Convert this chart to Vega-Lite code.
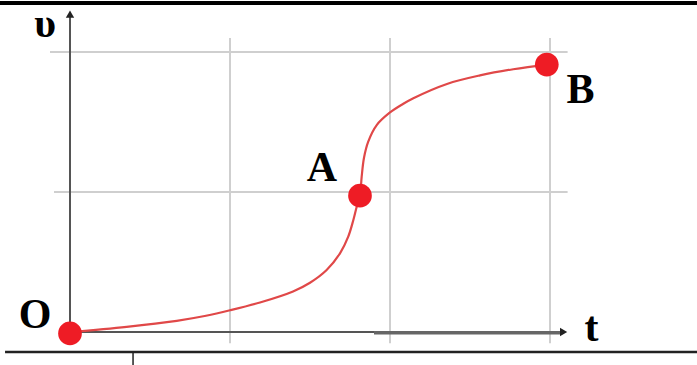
{
  "$schema": "https://vega.github.io/schema/vega-lite/v6.json",
  "width": 697,
  "height": 365,
  "autosize": "none",
  "padding": 0,
  "background": "white",
  "config": {"view": {"stroke": null}, "axis": null},
  "datasets": {
    "vgrid": [{"t": 1, "v1": -0.08, "v2": 2.1}, {"t": 2, "v1": -0.08, "v2": 2.1}, {"t": 3, "v1": -0.08, "v2": 2.1}],
    "hgrid": [{"v": 1, "t1": -0.1, "t2": 3.11}, {"v": 2, "t1": -0.125, "t2": 3.11}],
    "curve": [
      {"t": 0, "v": 0}, {"t": 0.354, "v": 0.037}, {"t": 0.667, "v": 0.08}, {"t": 0.85, "v": 0.116},
      {"t": 1.0, "v": 0.155}, {"t": 1.1875, "v": 0.211}, {"t": 1.394, "v": 0.29},
      {"t": 1.5, "v": 0.352}, {"t": 1.604, "v": 0.443}, {"t": 1.6875, "v": 0.562}, {"t": 1.739, "v": 0.681},
      {"t": 1.771, "v": 0.8}, {"t": 1.792, "v": 0.895}, {"t": 1.8125, "v": 0.974}, {"t": 1.823, "v": 1.109},
      {"t": 1.8375, "v": 1.245}, {"t": 1.864, "v": 1.36}, {"t": 1.917, "v": 1.478}, {"t": 2.0, "v": 1.568},
      {"t": 2.083, "v": 1.63}, {"t": 2.146, "v": 1.67}, {"t": 2.356, "v": 1.772}, {"t": 2.5625, "v": 1.833},
      {"t": 2.77, "v": 1.877}, {"t": 2.99, "v": 1.91}
    ],
    "points": [{"t": 0, "v": -0.01, "name": "O"}, {"t": 1.8125, "v": 0.974, "name": "A"}, {"t": 2.98, "v": 1.91, "name": "B"}],
    "labels": [
      {"t": -0.156, "v": 2.2, "text": "υ"},
      {"t": -0.219, "v": 0.12, "text": "O"},
      {"t": 1.575, "v": 1.17, "text": "A"},
      {"t": 3.19, "v": 1.73, "text": "B"},
      {"t": 3.26, "v": 0.03, "text": "t"}
    ]
  },
  "encoding": {},
  "layer": [
    {
      "data": {"name": "vgrid"},
      "mark": {"type": "rule", "color": "#cfcfcf", "strokeWidth": 2},
      "encoding": {
        "x": {"field": "t", "type": "quantitative", "scale": {"domain": [-0.4375, 3.91875], "nice": false, "zero": false}, "axis": null},
        "y": {"field": "v1", "type": "quantitative", "scale": {"domain": [-0.2357, 2.3714], "nice": false, "zero": false}, "axis": null},
        "y2": {"field": "v2"}
      }
    },
    {
      "data": {"name": "hgrid"},
      "mark": {"type": "rule", "color": "#cfcfcf", "strokeWidth": 2},
      "encoding": {
        "x": {"field": "t1", "type": "quantitative"},
        "x2": {"field": "t2"},
        "y": {"field": "v", "type": "quantitative"}
      }
    },
    {
      "data": {"values": [{"t1": 0, "t2": 0, "v1": -0.02, "v2": 2.25}, {"t1": -0.03, "t2": 3.07, "v1": 0, "v2": 0}]},
      "mark": {"type": "rule", "color": "#555555", "strokeWidth": 2},
      "encoding": {
        "x": {"field": "t1", "type": "quantitative"},
        "x2": {"field": "t2"},
        "y": {"field": "v1", "type": "quantitative"},
        "y2": {"field": "v2"}
      }
    },
    {
      "data": {"values": [{"t1": 1.9, "t2": 3.07, "v": -0.005}]},
      "mark": {"type": "rule", "color": "#666666", "strokeWidth": 3.5},
      "encoding": {
        "x": {"field": "t1", "type": "quantitative"},
        "x2": {"field": "t2"},
        "y": {"field": "v", "type": "quantitative"}
      }
    },
    {
      "data": {"values": [{"t": 0, "v": 2.27}]},
      "mark": {"type": "point", "shape": "triangle-up", "filled": true, "color": "#222222", "size": 70, "opacity": 1},
      "encoding": {
        "x": {"field": "t", "type": "quantitative"},
        "y": {"field": "v", "type": "quantitative"}
      }
    },
    {
      "data": {"values": [{"t": 3.085, "v": 0}]},
      "mark": {"type": "point", "shape": "triangle-right", "filled": true, "color": "#222222", "size": 70, "opacity": 1},
      "encoding": {
        "x": {"field": "t", "type": "quantitative"},
        "y": {"field": "v", "type": "quantitative"}
      }
    },
    {
      "data": {"name": "curve"},
      "mark": {"type": "line", "color": "#e04848", "strokeWidth": 2.2, "interpolate": "catmull-rom"},
      "encoding": {
        "x": {"field": "t", "type": "quantitative"},
        "y": {"field": "v", "type": "quantitative"}
      }
    },
    {
      "data": {"name": "points"},
      "mark": {"type": "point", "shape": "circle", "filled": true, "color": "#ee1c25", "size": 560, "opacity": 1},
      "encoding": {
        "x": {"field": "t", "type": "quantitative"},
        "y": {"field": "v", "type": "quantitative"}
      }
    },
    {
      "data": {"name": "labels"},
      "mark": {"type": "text", "font": "Liberation Serif", "fontWeight": "bold", "fontSize": 42, "color": "#000000", "align": "center", "baseline": "middle"},
      "encoding": {
        "x": {"field": "t", "type": "quantitative"},
        "y": {"field": "v", "type": "quantitative"},
        "text": {"field": "text", "type": "nominal"}
      }
    },
    {
      "data": {"values": [
        {"t1": -0.4375, "t2": 3.91875, "v1": 2.35}
      ]},
      "mark": {"type": "rule", "color": "#000000", "strokeWidth": 4},
      "encoding": {
        "x": {"field": "t1", "type": "quantitative"},
        "x2": {"field": "t2"},
        "y": {"field": "v1", "type": "quantitative"}
      }
    },
    {
      "data": {"values": [
        {"t1": -0.406, "t2": 3.91875, "v": -0.143}
      ]},
      "mark": {"type": "rule", "color": "#222222", "strokeWidth": 2.5},
      "encoding": {
        "x": {"field": "t1", "type": "quantitative"},
        "x2": {"field": "t2"},
        "y": {"field": "v", "type": "quantitative"}
      }
    },
    {
      "data": {"values": [
        {"t": 0.394, "v1": -0.143, "v2": -0.2357}
      ]},
      "mark": {"type": "rule", "color": "#222222", "strokeWidth": 1.5},
      "encoding": {
        "x": {"field": "t", "type": "quantitative"},
        "y": {"field": "v1", "type": "quantitative"},
        "y2": {"field": "v2"}
      }
    }
  ]
}
